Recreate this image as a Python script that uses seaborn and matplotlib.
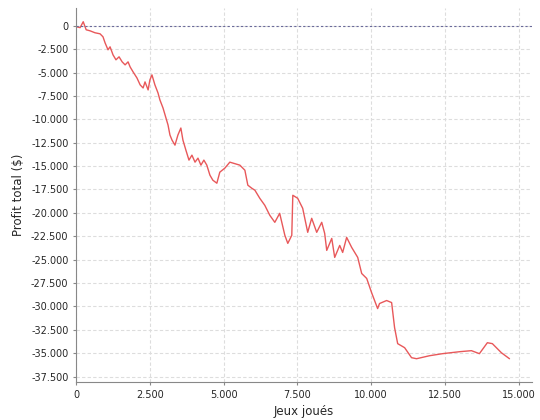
import matplotlib
matplotlib.use("Agg")
import matplotlib.pyplot as plt
import matplotlib.ticker as mticker
import seaborn as sns
import pandas as pd

# points
jeux = [0, 135, 240, 340, 470, 640, 810, 910, 980, 1080, 1150, 1250, 1350, 1455, 1560,
        1660, 1760, 1830, 1930, 2060, 2170, 2270, 2335, 2440, 2500, 2570, 2670, 2775,
        2840, 2945, 3045, 3115, 3180, 3250, 3350, 3450, 3550, 3620, 3720, 3825, 3925,
        4030, 4130, 4230, 4330, 4430, 4535, 4635, 4770, 4870, 5040, 5210, 5550, 5720,
        5820, 5955, 6060, 6225, 6395, 6565, 6735, 6900, 7075, 7175, 7310, 7345, 7510,
        7680, 7850, 7985, 8155, 8325, 8425, 8495, 8665, 8765, 8935, 9035, 9170, 9340,
        9545, 9680, 9850, 10015, 10220, 10285, 10525, 10695, 10795, 10900, 11135, 11370,
        11540, 11980, 12420, 13000, 13400, 13670, 13940, 14110, 14415, 14690]
profit = [-100, -200, 430, -430, -540, -750, -860, -1180, -1820, -2570, -2250, -3110,
          -3640, -3320, -3860, -4180, -3860, -4400, -4930, -5570, -6320, -6650, -6000,
          -6860, -5790, -5250, -6320, -7180, -7930, -8790, -9860, -10610, -11680, -12220,
          -12760, -11680, -10930, -12220, -13290, -14360, -13830, -14580, -14150, -14900,
          -14360, -14900, -15970, -16510, -16830, -15650, -15220, -14580, -14900, -15440,
          -17040, -17370, -17580, -18440, -19190, -20260, -21010, -20050, -22400, -23260,
          -22400, -18120, -18440, -19510, -22080, -20580, -22080, -21010, -22190, -24010,
          -22730, -24760, -23480, -24230, -22620, -23690, -24760, -26480, -27010, -28520,
          -30230, -29690, -29370, -29590, -32270, -33980, -34410, -35480, -35590, -35270,
          -35050, -34840, -34730, -35050, -33880, -33980, -34950, -35590]

df = pd.DataFrame({"jeux": jeux, "profit": profit})

sns.set_style("white")
plt.rcParams['font.family'] = ['DejaVu Sans']

fig = plt.figure(figsize=(5.4, 4.2), dpi=100)
ax = fig.add_axes([0.141, 0.09, 0.844, 0.891])

sns.lineplot(data=df, x="jeux", y="profit", ax=ax, color="#e8585a", linewidth=1)
ax.axhline(0, color="#6a6a9a", linestyle=(0, (2, 2)), linewidth=0.8)

ax.set_xlim(0, 15450)
ax.set_ylim(-38100, 1900)
ax.xaxis.set_major_locator(mticker.MultipleLocator(2500))
ax.yaxis.set_major_locator(mticker.MultipleLocator(2500))
fmt = mticker.FuncFormatter(lambda v, p: f"{v:,.0f}".replace(",", ".").replace("-", "-"))
ax.xaxis.set_major_formatter(fmt)
ax.yaxis.set_major_formatter(fmt)
ax.grid(True, color="#dddddd", linestyle=(0, (3, 2)), linewidth=0.8)
ax.tick_params(labelsize=7, length=2, color="#888888", direction="out")
ax.tick_params(left=True, bottom=True)
for s in ["top", "right"]:
    ax.spines[s].set_visible(False)
for s in ["left", "bottom"]:
    ax.spines[s].set_color("#888888")
ax.set_xlabel("Jeux joués", fontsize=8.5)
ax.set_ylabel("Profit total ($)", fontsize=8.5)

fig.savefig("out.png", dpi=100, facecolor="white")
